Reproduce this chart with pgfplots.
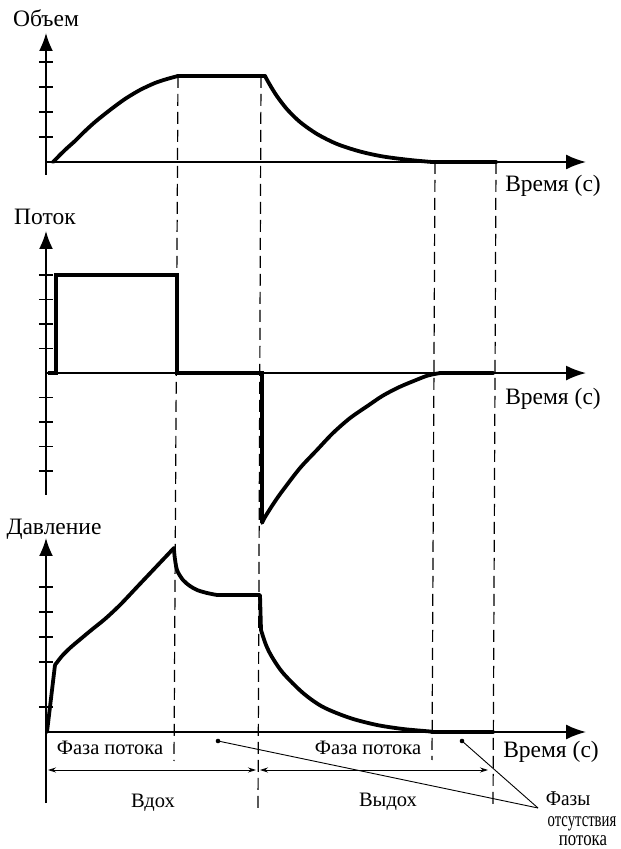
\documentclass[border=0pt]{standalone}
\usepackage{fontspec}
\setmainfont{Liberation Serif}
\usepackage{pgfplots}
\pgfplotsset{compat=1.18}
\usetikzlibrary{arrows.meta}
\newcommand\lbl{\fontsize{23.5}{26}\selectfont}
\newcommand\sml{\fontsize{20.5}{24}\selectfont}
\newcommand\nrw{\fontsize{21}{24}\selectfont}
\pgfplotsset{
  panel/.style={
    scale only axis, width=540pt, xmin=0, xmax=5.40,
    axis lines=middle,
    axis line style={line width=1.8pt},
    every inner x axis line/.append style={-{Latex[length=20pt,width=15pt]}},
    every inner y axis line/.append style={-{Latex[length=18pt,width=14pt]}},
    xtick=\empty, yticklabels={},
    major tick length=14pt, tick align=center,
    ytick style={line width=1.3pt, black},
    clip=false,
    anchor=south west,
  },
  curve/.style={line width=3.8pt, black, line join=round, line cap=round, mark=none},
}
\tikzset{dsh/.style={line width=1.2pt, dash pattern=on 12pt off 6pt}}
\begin{document}
\begin{tikzpicture}
\path[use as bounding box] (0pt,0pt) rectangle (621pt,849pt);

% ---------------- Volume ----------------
\begin{axis}[panel, at={(46pt,674pt)}, height=142pt, ymin=-0.52, ymax=5.16, ytick={1,2,3,4}]
\addplot[curve, smooth] coordinates {(0.07,0) (0.19,0.48) (0.29,0.84) (0.37,1.16) (0.49,1.60) (0.64,2.08) (0.79,2.52) (0.94,2.88) (1.09,3.16) (1.21,3.32) (1.32,3.44)};
\addplot[curve] coordinates {(1.32,3.44) (2.19,3.44)};
\addplot[curve, smooth] coordinates {(2.19,3.44) (2.21,3.29) (2.25,3.01) (2.31,2.63) (2.41,2.11) (2.54,1.60) (2.71,1.12) (2.91,0.72) (3.14,0.42) (3.37,0.22) (3.64,0.08) (3.86,0)};
\addplot[curve] coordinates {(3.86,0) (4.50,0)};
\coordinate (d1t) at (axis cs:1.32,3.44);
\coordinate (d2t) at (axis cs:2.15,3.44);
\coordinate (d3t) at (axis cs:3.89,0);
\coordinate (d4t) at (axis cs:4.50,0);
\end{axis}

% ---------------- Flow ----------------
\begin{axis}[panel, at={(46pt,354pt)}, height=264pt, ymin=-4.98, ymax=5.80, ytick={-5,-4,-3,-2,-1,1,2,3,4}]
\addplot[curve, line join=miter, line cap=butt] coordinates {(0.02,0) (0.10,0) (0.10,4.0) (1.31,4.0) (1.31,0) (2.16,0) (2.16,-6.12)};
\addplot[curve, smooth] coordinates {(2.16,-6.12) (2.19,-5.88) (2.28,-5.30) (2.37,-4.78) (2.54,-3.88) (2.71,-3.14) (2.87,-2.45) (3.04,-1.84) (3.21,-1.36) (3.37,-0.92) (3.54,-0.56) (3.71,-0.27) (3.82,-0.10) (3.94,0)};
\addplot[curve] coordinates {(3.94,0) (4.47,0)};
\end{axis}

% ---------------- Pressure ----------------
\begin{axis}[panel, at={(46pt,46pt)}, height=265pt, ymin=-2.84, ymax=7.76, ytick={1,2.8,3.8,4.8,5.8}]
\addplot[curve] coordinates {(0.01,0) (0.09,2.68)};
\addplot[curve, smooth] coordinates {(0.09,2.68) (0.16,3.04) (0.24,3.36) (0.34,3.70) (0.46,4.10) (0.59,4.52) (0.74,5.08) (0.92,5.84) (1.10,6.60) (1.28,7.36)};
\addplot[curve, smooth] coordinates {(1.28,7.36) (1.285,7.06) (1.31,6.48) (1.37,6.08) (1.44,5.84) (1.51,5.68) (1.61,5.56) (1.71,5.48)};
\addplot[curve] coordinates {(1.71,5.48) (2.14,5.48) (2.15,4.08)};
\addplot[curve, smooth] coordinates {(2.15,4.08) (2.20,3.48) (2.26,3.0) (2.37,2.36) (2.57,1.56) (2.77,1.0) (3.04,0.56) (3.31,0.28) (3.57,0.12) (3.84,0.02) (3.86,0)};
\addplot[curve] coordinates {(3.86,0) (4.47,0)};
\coordinate (d1b) at (axis cs:1.28,-1.16);
\coordinate (d2b) at (axis cs:2.12,-3.20);
\coordinate (d3b) at (axis cs:3.86,-1.12);
\coordinate (d4b) at (axis cs:4.47,-3.00);
\coordinate (a1l) at (axis cs:0.02,-1.52);
\coordinate (a1r) at (axis cs:2.10,-1.52);
\coordinate (a2l) at (axis cs:2.14,-1.52);
\coordinate (a2r) at (axis cs:4.42,-1.52);
\coordinate (p1) at (axis cs:1.72,-0.36);
\coordinate (p2) at (axis cs:4.16,-0.36);
\coordinate (pc) at (axis cs:4.92,-3.04);
\end{axis}

% dashed phase lines
\draw[dsh] (d1t) -- (d1b);
\draw[dsh] (d2t) -- (d2b);
\draw[dsh] (d3t) -- (d3b);
\draw[dsh] (d4t) -- (d4b);

% phase arrows
\draw[line width=0.8pt, {Stealth[length=8pt,width=5pt]}-{Stealth[length=8pt,width=5pt]}] (a1l) -- (a1r);
\draw[line width=0.8pt, {Stealth[length=8pt,width=5pt]}-{Stealth[length=8pt,width=5pt]}] (a2l) -- (a2r);
% pointers
\draw[line width=0.9pt] (p1) -- (pc);
\draw[line width=0.9pt] (p2) -- (pc);
\fill (p1) circle (2.3pt);
\fill (p2) circle (2.3pt);

% labels
\node[anchor=base, inner sep=0pt] at (46pt,822pt) {\lbl Объем};
\node[anchor=base, inner sep=0pt] at (553pt,657pt) {\lbl Время (с)};
\node[anchor=base, inner sep=0pt] at (45pt,624pt) {\lbl Поток};
\node[anchor=base, inner sep=0pt] at (553pt,444pt) {\lbl Время (с)};
\node[anchor=base, inner sep=0pt] at (54pt,314pt) {\lbl Давление};
\node[anchor=base, inner sep=0pt] at (110pt,94pt) {\sml Фаза потока};
\node[anchor=base, inner sep=0pt] at (368pt,94pt) {\sml Фаза потока};
\node[anchor=base, inner sep=0pt] at (551pt,91pt) {\lbl Время (с)};
\node[anchor=base, inner sep=0pt] at (153pt,41pt) {\sml Вдох};
\node[anchor=base, inner sep=0pt] at (388pt,42pt) {\sml Выдох};
\node[anchor=base, inner sep=0pt] at (568pt,43pt) {\nrw\scalebox{0.92}[1]{Фазы}};
\node[anchor=base, inner sep=0pt] at (582pt,23pt) {\nrw\scalebox{0.7}[1]{отсутствия}};
\node[anchor=base, inner sep=0pt] at (583pt,4pt) {\nrw\scalebox{0.8}[1]{потока}};
\end{tikzpicture}
\end{document}
